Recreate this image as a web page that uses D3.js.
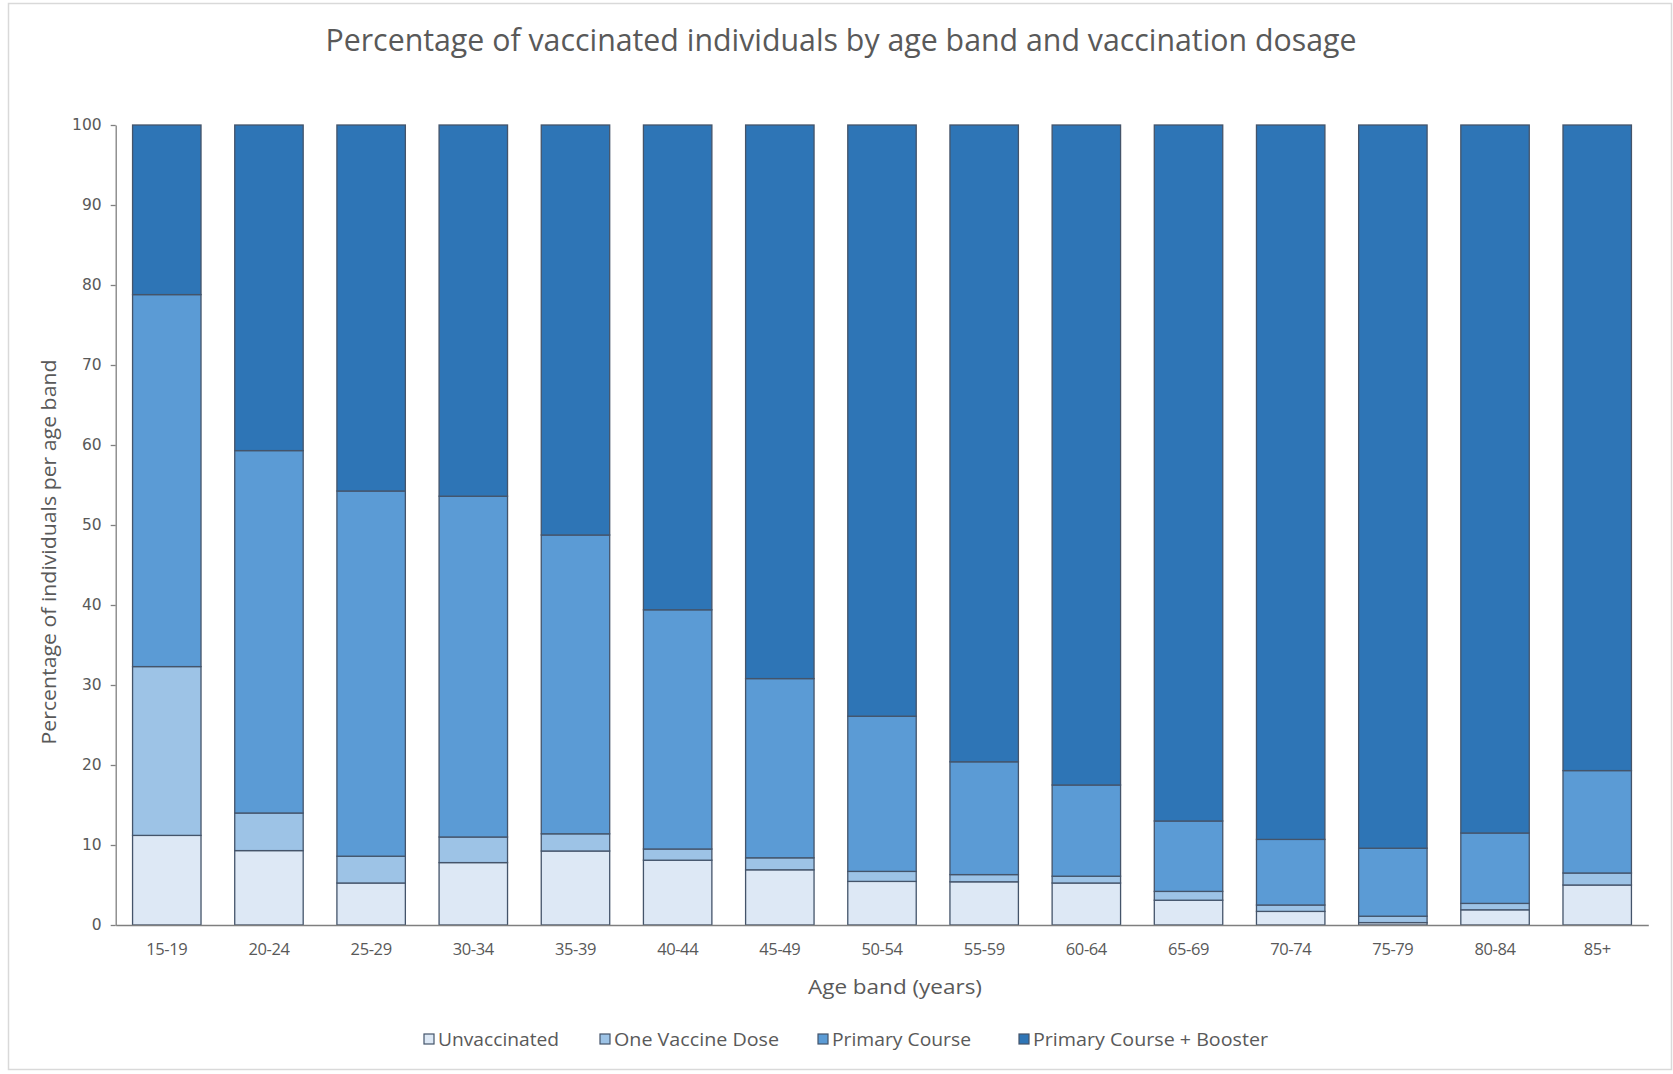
<!DOCTYPE html>
<html>
<head>
<meta charset="utf-8">
<script src="https://cdn.jsdelivr.net/npm/d3@7"></script>
<style>
  html, body { margin: 0; padding: 0; background: #ffffff; }
  svg { display: block; }
</style>
</head>
<body>
<svg id="chart" width="1673" height="1074"></svg>
<script>
// ---- data ----
const categories = ["15-19","20-24","25-29","30-34","35-39","40-44","45-49","50-54","55-59","60-64","65-69","70-74","75-79","80-84","85+"];
const seriesNames = ["Unvaccinated","One Vaccine Dose","Primary Course","Primary Course + Booster"];
const unvaccinated = [11.2, 9.3, 5.25, 7.8, 9.25, 8.1, 6.9, 5.45, 5.4, 5.25, 3.1, 1.7, 0.3, 1.9, 5.0];
const oneDose      = [21.1, 4.7, 3.35, 3.2, 2.15, 1.4, 1.5, 1.25, 0.9, 0.85, 1.1, 0.8, 0.8, 0.8, 1.5];
const primaryCourse= [46.5, 45.3, 45.65, 42.6, 37.35, 29.9, 22.4, 19.4, 14.1, 11.4, 8.8, 8.2, 8.5, 8.8, 12.8];
const booster      = [21.2, 40.7, 45.75, 46.4, 51.25, 60.6, 69.2, 73.9, 79.6, 82.5, 87.0, 89.3, 90.4, 88.5, 80.7];
const yTickValues  = [0, 10, 20, 30, 40, 50, 60, 70, 80, 90, 100];
const titleText = "Percentage of vaccinated individuals by age band and vaccination dosage";
const xTitle = "Age band (years)";
const yTitle = "Percentage of individuals per age band";

// ---- styles ----
const colors = ["#dde8f5", "#9dc3e6", "#5b9bd5", "#2e75b6"];
const strokeColor = "#44546a";
const textColor = "#595959";

const svg = d3.select("#chart");

// outer chart border
svg.append("rect")
  .attr("x", 8.5).attr("y", 3.5).attr("width", 1663).attr("height", 1066)
  .attr("fill", "#ffffff").attr("stroke", "#d9d9d9").attr("stroke-width", 1.5);

const plot = { left: 115.7, right: 1648.3, top: 125, bottom: 925 };

const x = d3.scaleBand().domain(categories)
  .range([plot.left, plot.right]).paddingInner(0.33).paddingOuter(0.165);
const y = d3.scaleLinear().domain([0, 100]).range([plot.bottom, plot.top]);

const rows = categories.map((c, i) => ({
  cat: c,
  [seriesNames[0]]: unvaccinated[i],
  [seriesNames[1]]: oneDose[i],
  [seriesNames[2]]: primaryCourse[i],
  [seriesNames[3]]: booster[i]
}));
const stacked = d3.stack().keys(seriesNames)(rows);

// bars
svg.append("g").selectAll("g")
  .data(stacked).join("g")
  .attr("fill", (d, i) => colors[i])
  .selectAll("rect")
  .data(d => d).join("rect")
  .attr("x", d => x(d.data.cat))
  .attr("width", x.bandwidth())
  .attr("y", d => y(Math.min(d[1], 100)))
  .attr("height", d => y(d[0]) - y(Math.min(d[1], 100)))
  .attr("stroke", strokeColor)
  .attr("stroke-width", 1.3);

// y axis
const yAxis = svg.append("g")
  .attr("transform", `translate(${plot.left},0)`)
  .call(d3.axisLeft(y).tickValues(yTickValues).tickSize(5).tickSizeOuter(0).tickPadding(9));
yAxis.select(".domain").attr("stroke", "#7f7f7f").attr("stroke-width", 1.3);
yAxis.selectAll(".tick line").attr("stroke", "#7f7f7f").attr("stroke-width", 1.3);
yAxis.selectAll(".tick text")
  .attr("fill", textColor)
  .style("font-family", "'DejaVu Sans', Verdana, sans-serif")
  .style("font-size", "15.5px");

// x axis
const xAxis = svg.append("g")
  .attr("transform", `translate(0,${plot.bottom})`)
  .call(d3.axisBottom(x).tickSize(0).tickSizeOuter(0).tickPadding(18));
xAxis.select(".domain").attr("stroke", "#7f7f7f").attr("stroke-width", 1.3);
xAxis.selectAll(".tick text")
  .attr("fill", textColor)
  .style("font-family", "'Open Sans', sans-serif")
  .style("font-size", "16.5px")
  .style("letter-spacing", "-0.4px");

// title
svg.append("text")
  .attr("x", 841).attr("y", 51)
  .attr("text-anchor", "middle")
  .attr("fill", textColor)
  .attr("textLength", 1031).attr("lengthAdjust", "spacingAndGlyphs")
  .style("font-family", "'Open Sans', sans-serif")
  .style("font-size", "31px")
  .text(titleText);

// x axis title
svg.append("text")
  .attr("x", 895).attr("y", 994)
  .attr("text-anchor", "middle")
  .attr("fill", textColor)
  .attr("textLength", 174).attr("lengthAdjust", "spacingAndGlyphs")
  .style("font-family", "'Open Sans', sans-serif")
  .style("font-size", "19.5px")
  .text(xTitle);

// y axis title
svg.append("text")
  .attr("transform", "translate(56,552) rotate(-90)")
  .attr("text-anchor", "middle")
  .attr("fill", textColor)
  .attr("textLength", 385).attr("lengthAdjust", "spacingAndGlyphs")
  .style("font-family", "'Open Sans', sans-serif")
  .style("font-size", "19.5px")
  .text(yTitle);

// legend
const legendX = [424, 600, 818, 1019];
const legendW = [121, 165, 139, 235];
const legend = svg.append("g").selectAll("g")
  .data(seriesNames).join("g")
  .attr("transform", (d, i) => `translate(${legendX[i]},1039)`);
legend.append("rect")
  .attr("x", 0).attr("y", -5).attr("width", 10).attr("height", 10)
  .attr("fill", (d, i) => colors[i])
  .attr("stroke", strokeColor).attr("stroke-width", 1.2);
legend.append("text")
  .attr("x", 14).attr("y", 7)
  .attr("fill", textColor)
  .attr("textLength", (d, i) => legendW[i]).attr("lengthAdjust", "spacingAndGlyphs")
  .style("font-family", "'Open Sans', sans-serif")
  .style("font-size", "19px")
  .text(d => d);
</script>
</body>
</html>
